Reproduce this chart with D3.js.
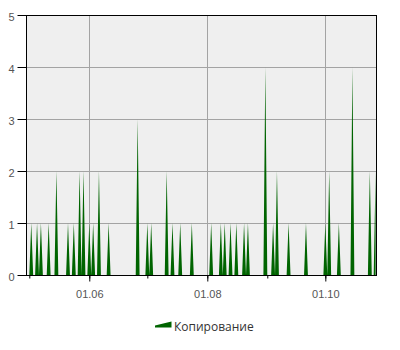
<!DOCTYPE html>
<html>
<head>
<meta charset="utf-8">
<script src="https://cdn.jsdelivr.net/npm/d3@7/dist/d3.min.js"></script>
<style>
  html, body { margin: 0; padding: 0; background: #fff; }
  svg { display: block; font-family: 'Open Sans', 'Noto Sans', sans-serif; }
</style>
</head>
<body>
<div id="chart"></div>
<script>
// days with copies (all other days are 0)
var copyDates = [
  '2014-05-02', '2014-05-05', '2014-05-07', '2014-05-11', '2014-05-15',
  '2014-05-21', '2014-05-24', '2014-05-27', '2014-05-29', '2014-06-01',
  '2014-06-03', '2014-06-06', '2014-06-11', '2014-06-26', '2014-07-01',
  '2014-07-03', '2014-07-11', '2014-07-14', '2014-07-18', '2014-07-24',
  '2014-08-03', '2014-08-08', '2014-08-10', '2014-08-13', '2014-08-16',
  '2014-08-20', '2014-08-22', '2014-08-31', '2014-09-04', '2014-09-06',
  '2014-09-12', '2014-09-21', '2014-10-01', '2014-10-03', '2014-10-08',
  '2014-10-15', '2014-10-24', '2014-10-27'
]
var copyCounts = [
  1, 1, 1, 1, 2,
  1, 1, 2, 2, 1,
  1, 2, 1, 3, 1,
  1, 2, 1, 1, 1,
  1, 1, 1, 1, 1,
  1, 1, 4, 1, 2,
  1, 1, 1, 2, 1,
  4, 2, 2
]
var monthTicks = ['2014-05-01', '2014-06-01', '2014-07-01', '2014-08-01', '2014-09-01', '2014-10-01']
var labelTicks = ['2014-06-01', '2014-08-01', '2014-10-01']
var yTicks = [0, 1, 2, 3, 4, 5]
var seriesName = 'Копирование'

var parse = d3.timeParse('%Y-%m-%d')
var xStart = new Date(2014, 3, 29, 7)
var xEnd = new Date(2014, 9, 27, 17)

var width = 400
var height = 350
var plot = { left: 26, top: 15, right: 377, bottom: 275 }

// daily series, zero on days without copies
var byDay = {}
copyDates.forEach(function (d, i) { byDay[d] = copyCounts[i] })
var fmtKey = d3.timeFormat('%Y-%m-%d')
var series = d3.timeDay.range(d3.timeDay.ceil(xStart), xEnd).map(function (d) {
  return { date: d, value: byDay[fmtKey(d)] || 0 }
})

var x = d3.scaleTime().domain([xStart, xEnd]).range([plot.left, plot.right])
var y = d3.scaleLinear().domain([0, 5]).range([plot.bottom, plot.top])

var svg = d3.select('#chart').append('svg')
  .attr('width', width)
  .attr('height', height)

svg.append('rect')
  .attr('x', plot.left)
  .attr('y', plot.top)
  .attr('width', plot.right - plot.left)
  .attr('height', plot.bottom - plot.top)
  .attr('fill', '#efefef')

// grid
svg.append('g')
  .selectAll('line')
  .data(yTicks.filter(function (v) { return v > 0 && v < 5 }))
  .enter().append('line')
  .attr('x1', plot.left).attr('x2', plot.right)
  .attr('y1', function (d) { return y(d) + 0.5 })
  .attr('y2', function (d) { return y(d) + 0.5 })
  .attr('stroke', '#a3a3a3')

svg.append('g')
  .selectAll('line')
  .data(labelTicks.map(parse))
  .enter().append('line')
  .attr('x1', function (d) { return Math.round(x(d)) + 0.5 })
  .attr('x2', function (d) { return Math.round(x(d)) + 0.5 })
  .attr('y1', plot.top).attr('y2', plot.bottom)
  .attr('stroke', '#a3a3a3')

var area = d3.area()
  .x(function (d) { return x(d.date) })
  .y0(y(0))
  .y1(function (d) { return y(d.value) })

svg.append('path')
  .datum(series)
  .attr('d', area)
  .attr('fill', '#006400')

// frame
svg.append('rect')
  .attr('x', plot.left + 0.5)
  .attr('y', plot.top + 0.5)
  .attr('width', plot.right - plot.left - 1)
  .attr('height', plot.bottom - plot.top)
  .attr('fill', 'none')
  .attr('stroke', '#000')

// y axis
var yAxis = svg.append('g')
  .attr('transform', 'translate(' + (plot.left + 0.5) + ',0)')
  .call(d3.axisLeft(y).tickValues(yTicks).tickSize(9).tickPadding(3).tickFormat(d3.format('d')))
yAxis.select('.domain').remove()
yAxis.selectAll('text')
  .attr('dy', '0.5em')
  .style('font-size', '11px')
  .attr('fill', '#555')

// x axis: minor month ticks then labelled ones
var xMinor = svg.append('g')
  .attr('transform', 'translate(0,' + (plot.bottom + 0.5) + ')')
  .call(d3.axisBottom(x).tickValues(monthTicks.map(parse)).tickSize(3).tickFormat(''))
xMinor.select('.domain').remove()

var xMajor = svg.append('g')
  .attr('transform', 'translate(0,' + (plot.bottom + 0.5) + ')')
  .call(d3.axisBottom(x).tickValues(labelTicks.map(parse)).tickSize(6).tickPadding(9).tickFormat(d3.timeFormat('%d.%m')))
xMajor.select('.domain').remove()
xMajor.selectAll('text')
  .style('font-size', '11px')
  .attr('fill', '#555')

// legend
var legend = svg.append('g')
legend.append('path')
  .attr('d', 'M155,327.5 L155,325.5 L171.5,321.5 L171.5,327.5 Z')
  .attr('fill', '#006400')
legend.append('text')
  .attr('x', 174)
  .attr('y', 330.5)
  .style('font-size', '12px')
  .attr('fill', '#333')
  .text(seriesName)
</script>
</body>
</html>
